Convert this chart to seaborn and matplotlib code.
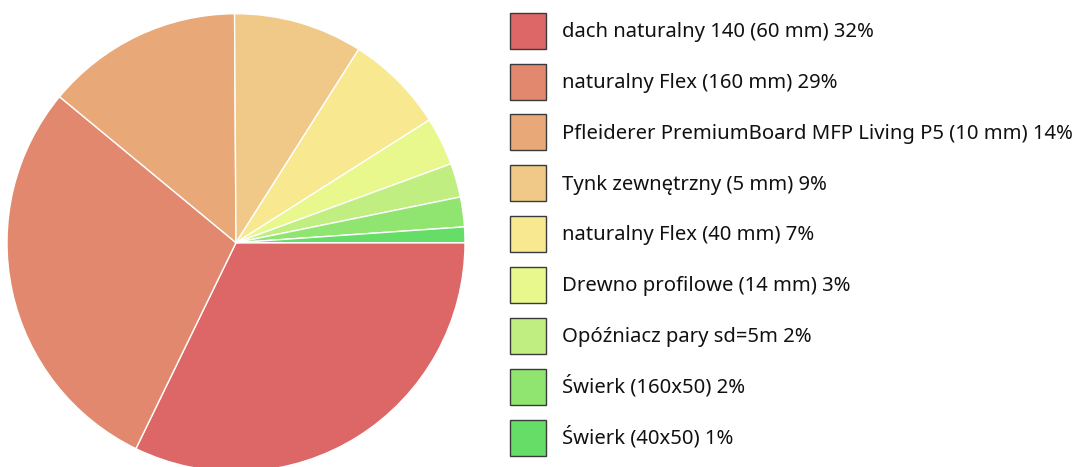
import matplotlib
matplotlib.use("Agg")
import matplotlib.pyplot as plt
import seaborn as sns
from matplotlib.patches import Patch

labels = [
    "dach naturalny 140 (60 mm)",
    "naturalny Flex (160 mm)",
    "Pfleiderer PremiumBoard MFP Living P5 (10 mm)",
    "Tynk zewnętrzny (5 mm)",
    "naturalny Flex (40 mm)",
    "Drewno profilowe (14 mm)",
    "Opóźniacz pary sd=5m",
    "Świerk (160x50)",
    "Świerk (40x50)",
]
values = [32.2, 28.8, 13.9, 9.1, 7.0, 3.4, 2.4, 2.1, 1.1]
colors = ["#dd6666", "#e2886e", "#e9a878", "#f0c988", "#f8e890",
          "#e8f88c", "#c0ee80", "#90e470", "#66dd66"]

sns.set_theme(style="white")
plt.rcParams["font.family"] = ["Noto Sans", "DejaVu Sans"]

W, H = 1080, 467
fig = plt.figure(figsize=(W / 100, H / 100), dpi=100)
cx, cy, r = 236, 467 - 242.7, 229
ax = fig.add_axes([(cx - r) / W, (cy - r) / H, 2 * r / W, 2 * r / H])
palette = sns.color_palette(colors)
ax.pie(values, colors=palette, startangle=0, counterclock=False,
       wedgeprops=dict(edgecolor="white", linewidth=1.0))
ax.set_xlim(-1, 1)
ax.set_ylim(-1, 1)
ax.set_aspect("equal")
ax.axis("off")

total = sum(values)
handles = [Patch(facecolor=c, edgecolor="#3a3a3a", linewidth=1.0) for c in palette]
leg_labels = [f"{l} {round(v / total * 100)}%" for l, v in zip(labels, values)]
fs = 14.6
sq = 25.92  # pt (36 px)
hh = (sq - 0.245 * fs) / 0.65 / fs
fig.legend(handles, leg_labels, loc="upper left",
           bbox_to_anchor=(510 / W, 1 - 12.7 / H), frameon=False,
           borderpad=0, borderaxespad=0, fontsize=fs, labelcolor="#111111",
           handlelength=sq / fs, handleheight=hh,
           labelspacing=10.7 / fs, handletextpad=11.5 / fs)

fig.savefig("out.png", dpi=100, facecolor="white")
